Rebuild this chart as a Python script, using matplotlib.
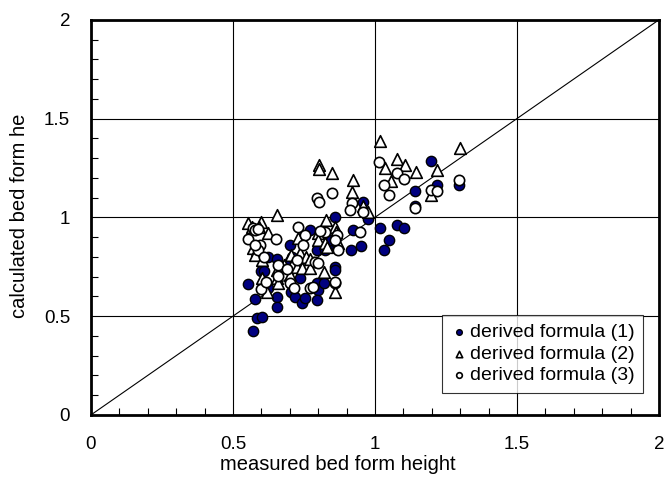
import matplotlib
matplotlib.use('Agg')
import matplotlib.pyplot as plt
from matplotlib.ticker import MultipleLocator

plt.rcParams['font.family'] = ['Liberation Sans', 'DejaVu Sans']

# derived formula (1)
f1_x = [0.554, 0.577, 0.583, 0.601, 0.571, 0.599, 0.624, 0.624, 0.656, 0.656,
        0.656, 0.701, 0.703, 0.718, 0.736, 0.742, 0.754, 0.771, 0.795, 0.800,
        0.795, 0.820, 0.836, 0.859, 0.859, 0.859, 0.847, 0.921, 0.914, 0.950,
        0.959, 0.977, 1.018, 1.051, 1.033, 1.079, 1.102, 1.141, 1.141, 1.196,
        1.217, 1.297, 0.797, 0.824, 0.844, 0.783, 0.701, 0.609, 0.707, 0.724]
f1_y = [0.662, 0.587, 0.490, 0.498, 0.425, 0.729, 0.801, 0.641, 0.790, 0.599,
        0.548, 0.861, 0.624, 0.599, 0.692, 0.565, 0.591, 0.937, 0.667, 0.633,
        0.582, 0.670, 0.844, 1.004, 0.751, 0.731, 0.886, 0.937, 0.835, 0.856,
        1.080, 0.991, 0.945, 0.883, 0.835, 0.962, 0.945, 1.131, 1.058, 1.286,
        1.165, 1.165, 0.835, 0.835, 0.883, 0.776, 0.779, 0.729, 0.801, 0.768]

# derived formula (2)
f2_x = [0.554, 0.597, 0.654, 0.624, 0.572, 0.583, 0.577, 0.601, 0.656, 0.656,
        0.659, 0.601, 0.619, 0.703, 0.730, 0.736, 0.757, 0.707, 0.724, 0.742,
        0.701, 0.771, 0.803, 0.803, 0.850, 0.924, 0.918, 0.827, 0.859, 0.863,
        0.798, 0.800, 0.824, 0.830, 0.871, 0.820, 0.859, 0.959, 0.977, 1.018,
        1.079, 1.106, 1.035, 1.144, 1.055, 1.220, 1.299, 1.199, 0.566, 0.590,
        0.680, 0.770]
f2_y = [0.970, 0.974, 1.013, 0.923, 0.844, 0.835, 0.810, 0.785, 0.734, 0.692,
        0.667, 0.692, 0.624, 0.810, 0.895, 0.819, 0.801, 0.759, 0.751, 0.743,
        0.709, 0.743, 1.266, 1.244, 1.224, 1.190, 1.126, 0.987, 0.953, 0.928,
        0.920, 0.886, 0.869, 0.852, 0.869, 0.722, 0.624, 1.055, 1.029, 1.384,
        1.294, 1.266, 1.249, 1.232, 1.185, 1.240, 1.353, 1.114, 0.950, 0.950,
        0.760, 0.790]

# derived formula (3)
f3_x = [0.554, 0.569, 0.577, 0.589, 0.651, 0.595, 0.589, 0.597, 0.615, 0.659,
        0.701, 0.715, 0.724, 0.730, 0.754, 0.771, 0.783, 0.789, 0.800, 0.795,
        0.803, 0.847, 0.824, 0.859, 0.871, 0.918, 0.912, 0.947, 0.959, 1.015,
        1.033, 1.051, 1.079, 1.102, 1.196, 1.220, 1.297, 1.141, 0.865, 0.859,
        0.859, 0.660, 0.690, 0.745, 0.805, 0.610, 0.578]
f3_y = [0.889, 0.945, 0.937, 0.942, 0.889, 0.861, 0.835, 0.638, 0.672, 0.705,
        0.667, 0.641, 0.785, 0.950, 0.911, 0.641, 0.646, 0.776, 0.768, 1.097,
        1.080, 1.122, 0.928, 0.667, 0.835, 1.075, 1.038, 0.928, 1.029, 1.278,
        1.165, 1.114, 1.227, 1.195, 1.139, 1.131, 1.190, 1.046, 0.911, 0.886,
        0.672, 0.760, 0.740, 0.860, 0.930, 0.800, 0.860]

fig = plt.figure(figsize=(6.69, 4.83), dpi=100)
ax = fig.add_axes([0.136, 0.141, 0.849, 0.818])

ax.set_xlim(0, 2)
ax.set_ylim(0, 2)
ax.xaxis.set_major_locator(MultipleLocator(0.5))
ax.yaxis.set_major_locator(MultipleLocator(0.5))
ax.xaxis.set_minor_locator(MultipleLocator(0.1))
ax.yaxis.set_minor_locator(MultipleLocator(0.1))
ax.xaxis.set_major_formatter(plt.FuncFormatter(lambda v, p: f'{v:g}'))
ax.yaxis.set_major_formatter(plt.FuncFormatter(lambda v, p: f'{v:g}'))
ax.grid(True, which='major', color='black', linewidth=0.8)
ax.tick_params(which='major', length=0, labelsize=13.5, pad=15)
ax.tick_params(which='minor', direction='in', length=5, width=0.8)
for sp in ax.spines.values():
    sp.set_linewidth(2)

ax.plot([0, 2], [0, 2], color='black', linewidth=0.8, zorder=2)

ax.scatter(f1_x, f1_y, s=55, marker='o', facecolor='#000080', edgecolor='black',
           linewidth=1, zorder=3, label='derived formula (1)')
ax.scatter(f2_x, f2_y, s=70, marker='^', facecolor='white', edgecolor='black',
           linewidth=1.2, zorder=4, label='derived formula (2)')
ax.scatter(f3_x, f3_y, s=55, marker='o', facecolor='white', edgecolor='black',
           linewidth=1.2, zorder=5, label='derived formula (3)')

leg = ax.legend(loc='lower right', bbox_to_anchor=(0.972, 0.055), fontsize=14,
                frameon=True, fancybox=False, edgecolor='black', markerscale=0.55,
                handletextpad=0.15, borderpad=0.45, labelspacing=0.2,
                handlelength=0.8, borderaxespad=0)
leg.get_frame().set_linewidth(0.8)

fig.text(338 / 669, 1 - 464 / 483, 'measured bed form height', fontsize=14.5,
         ha='center', va='center')
fig.text(20 / 669, 1 - 216 / 483, 'calculated bed form he', rotation=90,
         fontsize=14.5, ha='center', va='center')

fig.savefig('out.png', dpi=100)
